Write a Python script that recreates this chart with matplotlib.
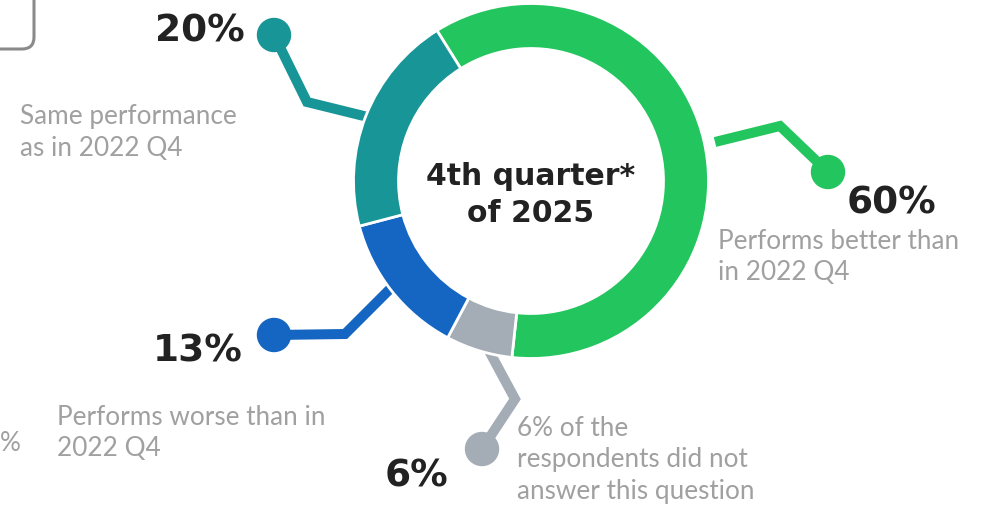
import numpy as np
import matplotlib
matplotlib.use("Agg")
import matplotlib.pyplot as plt
from matplotlib.patches import Circle, FancyBboxPatch

# answers, in clockwise order starting from the top-left boundary
labels = ["Performs better than\nin 2022 Q4",
          "6% of the\nrespondents did not\nanswer this question",
          "Performs worse than in\n2022 Q4",
          "Same performance\nas in 2022 Q4"]
shares = [60, 6, 13, 20]
colors = ["#23c55e", "#a4acb6", "#1565c2", "#179597"]
center_title = "4th quarter*\nof 2025"

W, H = 982, 506
fig = plt.figure(figsize=(W / 100, H / 100), dpi=100)
ax = fig.add_axes([0, 0, 1, 1])


def Y(y):
    # pixel rows from the top -> data y
    return H - y


cx, cy, R, ring = 531, 182, 177.5, 45
wedges, _ = ax.pie(shares, colors=colors, startangle=122, counterclock=False,
                   center=(cx, Y(cy)), radius=R, frame=True,
                   wedgeprops=dict(width=ring, edgecolor="white", linewidth=2,
                                   zorder=2))
ax.set_xlim(0, W)
ax.set_ylim(0, H)
ax.set_aspect("equal")
ax.axis("off")

# leader lines: from the ring out to an elbow and a dot
lw = 7.2
leaders = [
    [(715, 143), (780, 127), (828, 173)],
    [(488, 350), (515, 400), (482, 450)],
    [(392, 288), (345, 335), (274, 336)],
    [(372, 119), (307, 103), (274, 36)],
]
for pts, col in zip(leaders, colors):
    xs = [p[0] for p in pts]
    ys = [Y(p[1]) for p in pts]
    ax.plot(xs, ys, color=col, lw=lw, solid_joinstyle="miter",
            solid_capstyle="butt", zorder=1)
    ax.add_patch(Circle((xs[-1], ys[-1]), 16.5, color=col, zorder=3))

dark = "#222222"
grey = "#a0a0a0"
big = dict(fontsize=27, fontweight="bold", color=dark, family="DejaVu Sans",
           va="baseline")
pct_pos = [(847, 213, "left"), (385, 487, "left"), (243, 362, "right"),
           (245, 41, "right")]
for v, (x, y, ha) in zip(shares, pct_pos):
    ax.text(x, Y(y), f"{v}%", ha=ha, **big)

lab_pos = [(718, 249), (517, 436), (57, 425), (20, 124)]
for lab, (x, y) in zip(labels, lab_pos):
    for i, line in enumerate(lab.split("\n")):
        ax.text(x, Y(y + i * 31.5), line, fontsize=18.8, color=grey,
                family="Lato", va="baseline", ha="left")

# text peeking in at the left edge
ax.text(0, Y(451), "%", fontsize=18.8, color=grey, family="Lato",
        va="baseline", ha="left")

for i, line in enumerate(center_title.split("\n")):
    ax.text(cx, Y(185 + i * 37), line, fontsize=21.5, fontweight="bold",
            color=dark, family="DejaVu Sans", ha="center", va="baseline")

# box edge peeking in at the top-left
ax.add_patch(FancyBboxPatch((-40, Y(50)), 74, 90,
                            boxstyle="round,pad=0,rounding_size=12",
                            fc="none", ec="#8a8a8a", lw=2.2, zorder=2))

fig.savefig("out.png", dpi=100)
